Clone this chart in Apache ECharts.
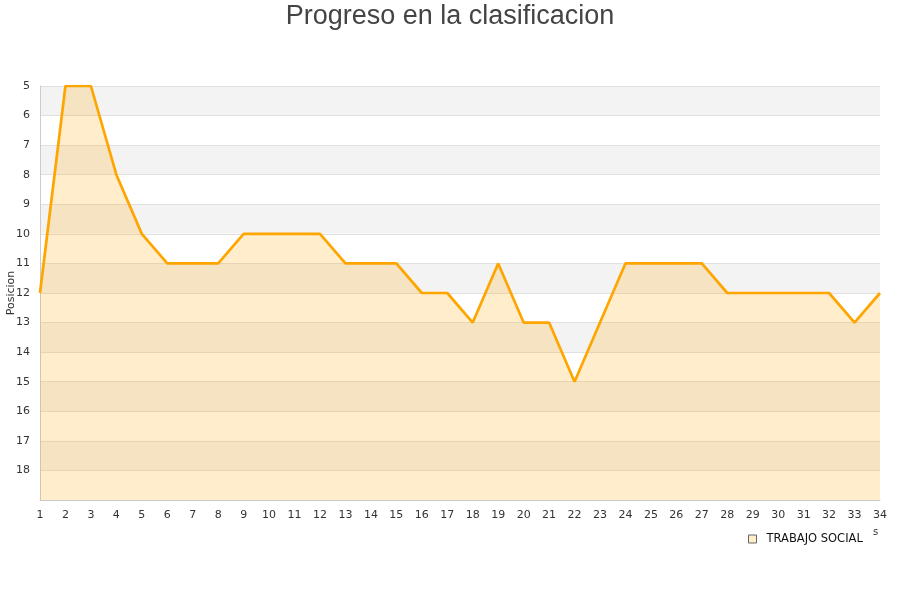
<!DOCTYPE html>
<html><head><meta charset="utf-8">
<script src="https://cdn.jsdelivr.net/npm/echarts@6/dist/echarts.min.js"></script>
<style>html,body{margin:0;padding:0;background:#fff}#c{width:900px;height:600px}</style>
</head><body><div id="c"></div>
<script>
var jornadas = ['1','2','3','4','5','6','7','8','9','10','11','12','13','14','15','16','17','18','19','20','21','22','23','24','25','26','27','28','29','30','31','32','33','34'];
var posiciones = [12,5,5,8,10,11,11,11,10,10,10,10,11,11,11,12,12,13,11,13,13,15,13,11,11,11,11,12,12,12,12,12,13,12];
var serieNombre = 'TRABAJO SOCIAL';

var chart = echarts.init(document.getElementById('c'));
chart.setOption({
  animation: false,
  title: {text: 'Progreso en la clasificacion', left: 'center', top: -2,
    textStyle: {fontFamily: 'Liberation Sans', fontSize: 27, fontWeight: 'normal', color: '#444'}},
  legend: {data: [{name: serieNombre, icon: 'rect', itemStyle: {color: '#ffedcc', borderColor: '#666', borderWidth: 1}}],
    left: 743, top: 528, itemWidth: 8, itemHeight: 8,
    textStyle: {fontFamily: 'DejaVu Sans', fontSize: 11.5, color: '#111', padding: [0, 0, 0, 5]}},
  grid: {left: 40, right: 20, top: 86, bottom: 100, outerBoundsMode: 'none', containLabel: false},
  xAxis: {type: 'category', data: jornadas, boundaryGap: false,
    axisLine: {lineStyle: {color: '#ccc'}}, axisTick: {show: false},
    axisLabel: {fontFamily: 'DejaVu Sans', fontSize: 11, color: '#333', margin: 10},
    splitLine: {show: false}},
  yAxis: {type: 'value', inverse: true, min: 5, max: 19, interval: 1,
    name: 'Posicion', nameLocation: 'middle', nameGap: 23, nameRotate: 90, nameMoveOverlap: false,
    nameTextStyle: {fontFamily: 'DejaVu Sans', fontSize: 11, color: '#333'},
    axisLine: {show: true, lineStyle: {color: '#ccc'}}, axisTick: {show: false},
    axisLabel: {fontFamily: 'DejaVu Sans', fontSize: 11, color: '#333', margin: 10,
      formatter: function (v) { return v === 19 ? '' : v; }},
    splitLine: {show: true, lineStyle: {color: '#e0e0e0'}},
    splitArea: {show: true, areaStyle: {color: ['#f3f3f3', '#ffffff']}}},
  graphic: [{type: 'text', left: 873, top: 527, style: {text: 's', font: '10px DejaVu Sans', fill: '#333'}}],
  series: [{name: serieNombre, type: 'line', data: posiciones, symbol: 'none',
    lineStyle: {color: '#ffa500', width: 2.7},
    itemStyle: {color: '#ffedcc', borderColor: '#999'},
    areaStyle: {color: '#ffa500', opacity: 0.2, origin: 'end'}}]
});
</script></body></html>
